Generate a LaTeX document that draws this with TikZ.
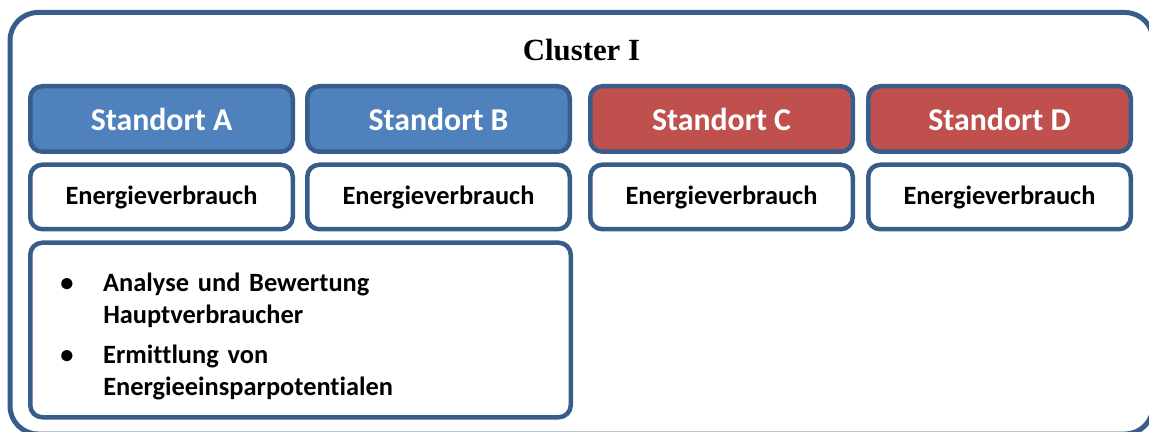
\documentclass[tikz,border=0pt]{standalone}
\usepackage{fontspec}
\setmainfont[Ligatures=CommonOff]{Carlito}
\newfontfamily\titelfont{Liberation Serif}
\usepackage{xcolor}
\usepackage{tikz}
\usetikzlibrary{positioning}
\definecolor{rahmen}{RGB}{56,93,138}
\definecolor{blau}{RGB}{79,129,189}
\definecolor{rot}{RGB}{192,80,77}
\tikzset{
    cluster/.style={draw=rahmen, line width=2.5pt, rounded corners=14pt},
    titel/.style={font=\titelfont\bfseries\fontsize{15.4}{18}\selectfont, text=black},
    standort/.style={rectangle, draw=rahmen, line width=2.25pt, rounded corners=6pt, minimum width=131.25pt, minimum height=32.75pt, inner sep=0pt, text=white, font=\bfseries\fontsize{15.9}{19}\selectfont},
    energie/.style={rectangle, draw=rahmen, line width=2.25pt, rounded corners=6pt, fill=white, minimum width=131.25pt, minimum height=32.25pt, inner sep=0pt, font=\bfseries\fontsize{13.2}{16}\selectfont},
    liste/.style={rectangle, draw=rahmen, line width=2.25pt, rounded corners=6pt, fill=white, minimum height=87.25pt, text width=240.25pt, inner xsep=15pt, inner ysep=0pt, align=left, font=\bfseries\fontsize{13.2}{16}\selectfont}
}

\begin{document}
\begin{tikzpicture}
        \clip (0,0) rectangle (574.5pt,-216pt);
        \draw[cluster] (5pt,-6.25pt) rectangle (576.5pt,-217pt);
        \node[titel] (Titel) at (290.75pt,-25pt) {Cluster I};

        \node[standort, fill=blau] (StA) at (80.75pt,-59.5pt) {Standort A};
        \node[standort, fill=blau, right=5pt of StA] (StB) {Standort B};
        \node[standort, fill=rot, right=8pt of StB] (StC) {Standort C};
        \node[standort, fill=rot, right=5.5pt of StC] (StD) {Standort D};

        \node[energie, below=4.25pt of StA] (EnA) {Energieverbrauch};
        \node[energie, below=4.25pt of StB] (EnB) {Energieverbrauch};
        \node[energie, below=4.25pt of StC] (EnC) {Energieverbrauch};
        \node[energie, below=4.25pt of StD] (EnD) {Energieverbrauch};

        \node[liste, below=4.5pt of EnA.south west, anchor=north west] (Aufgaben) {%
            \raisebox{-3.75pt}[\height][\depth]{%
            \begin{tabular}{@{}p{21.5pt}@{}l@{}}
                \textbullet & Analyse und Bewertung\\
                & Hauptverbraucher\\[4pt]
                \textbullet & Ermittlung von\\
                & Energieeinsparpotentialen
            \end{tabular}}};
    \end{tikzpicture}
\end{document}
